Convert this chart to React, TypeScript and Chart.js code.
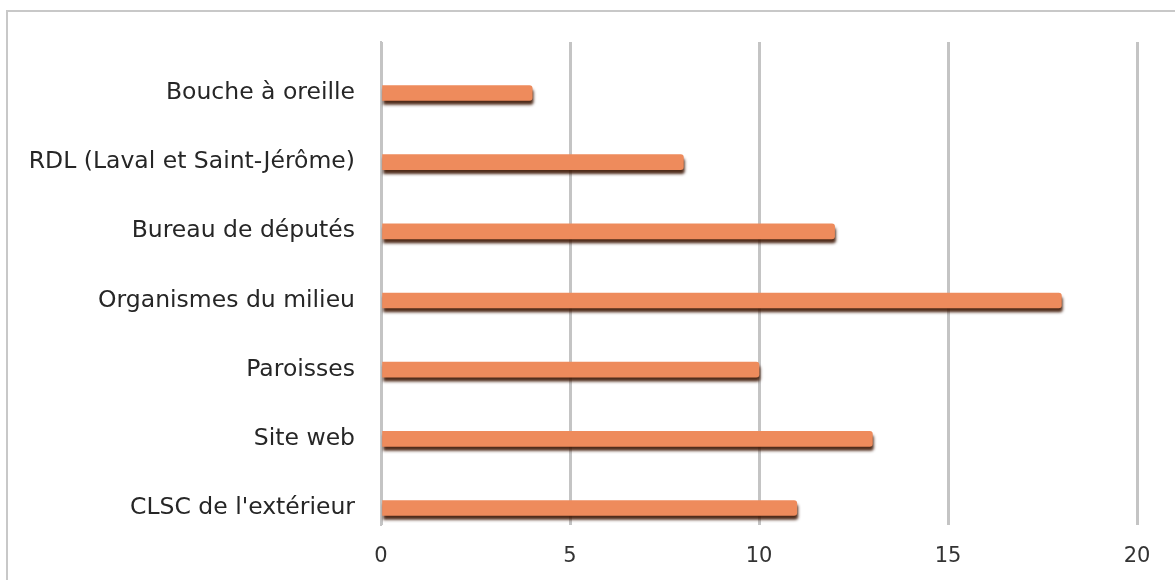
import React, { useEffect, useRef } from "react";
import { Chart, registerables } from "chart.js";

Chart.register(...registerables);

const categories = [
  "Bouche à oreille",
  "RDL (Laval et Saint-Jérôme)",
  "Bureau de députés",
  "Organismes du milieu",
  "Paroisses",
  "Site web",
  "CLSC de l'extérieur",
];
const values = [4, 8, 12, 18, 10, 13, 11];
const xTicks = [0, 5, 10, 15, 20];

const frame = {
  id: "frame",
  beforeDraw(chart: any) {
    const ctx = chart.ctx;
    ctx.save();
    ctx.fillStyle = "#ffffff";
    ctx.fillRect(0, 0, chart.width, chart.height);
    ctx.strokeStyle = "#c8c8c8";
    ctx.lineWidth = 2;
    ctx.strokeRect(7, 11, chart.width + 20, chart.height + 20);
    ctx.restore();
  },
  beforeDatasetsDraw(chart: any) {
    const ctx = chart.ctx;
    ctx.save();
    ctx.shadowColor = "rgba(60,20,0,0.9)";
    ctx.shadowOffsetX = 1;
    ctx.shadowOffsetY = 4;
    ctx.shadowBlur = 3;
  },
  afterDatasetsDraw(chart: any) {
    chart.ctx.restore();
  },
};

export default function App() {
  const ref = useRef<HTMLCanvasElement>(null);
  useEffect(() => {
    if (!ref.current) return;
    const chart = new Chart(ref.current, {
      type: "bar",
      data: {
        datasets: [
          {
            data: values.map((v, i) => ({ x: v, y: i })),
            backgroundColor: "#EE8B5C",
            borderWidth: 0,
            borderRadius: 3,
            borderSkipped: "start",
            barThickness: 15,
          },
        ],
      },
      plugins: [frame],
      options: {
        indexAxis: "y",
        animation: false,
        responsive: false,
        maintainAspectRatio: false,
        layout: { padding: { left: 0, right: 38, top: 42, bottom: 0 } },
        plugins: { legend: { display: false }, tooltip: { enabled: false } },
        scales: {
          x: {
            type: "linear",
            min: 0,
            max: 20,
            afterBuildTicks: (scale: any) => {
              scale.ticks = xTicks.map((v) => ({ value: v }));
            },
            afterFit: (scale: any) => {
              scale.height = 55;
            },
            grid: { color: "#c4c4c4", lineWidth: 3, drawTicks: false },
            border: { display: false },
            ticks: {
              padding: 19,
              color: "#333333",
              font: { family: "DejaVu Sans", size: 21 },
            },
          },
          y: {
            type: "linear",
            reverse: true,
            offset: false,
            min: -0.737,
            max: 6.246,
            afterBuildTicks: (scale: any) => {
              scale.ticks = categories.map((_, i) => ({ value: i }));
            },
            afterFit: (scale: any) => {
              scale.width = 381;
            },
            grid: { display: false, drawTicks: false },
            border: { display: true, color: "#c4c4c4", width: 2 },
            ticks: {
              padding: 26,
              color: "#262626",
              font: { family: "DejaVu Sans", size: 23.5 },
              callback: (v: any) => categories[Math.round(Number(v))] ?? "",
            },
          },
        },
      },
    });
    return () => chart.destroy();
  }, []);
  return (
    <div style={{ position: "absolute", left: 0, top: 0, width: 1175, height: 580 }}>
      <canvas ref={ref} width={1175} height={580} style={{ display: "block" }} />
    </div>
  );
}
